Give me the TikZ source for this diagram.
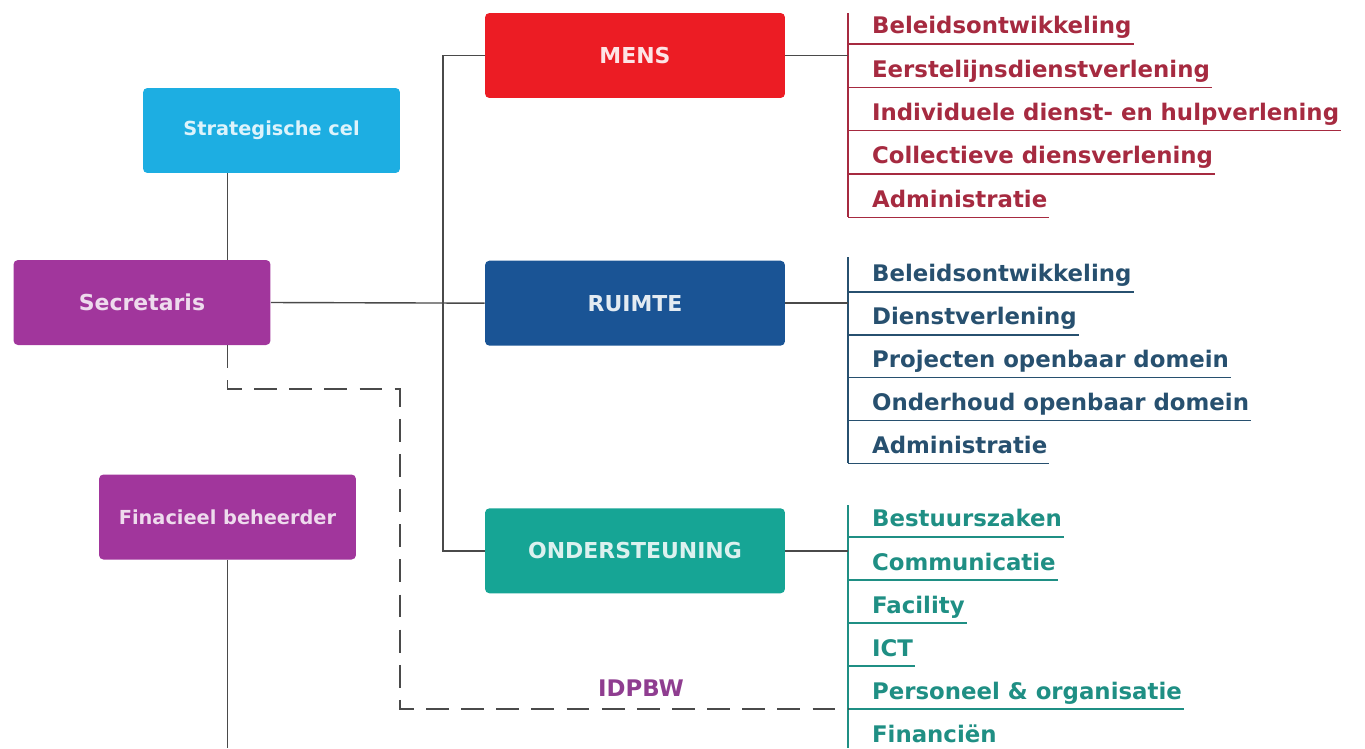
\documentclass[tikz,border=0pt]{standalone}
\usepackage{fontspec}
\setmainfont{DejaVu Sans}
\usepackage{tikz}
\usetikzlibrary{positioning}

\definecolor{stratcol}{HTML}{1DAEE2}
\definecolor{secrcol}{HTML}{A1369C}
\definecolor{menscol}{HTML}{EC1C24}
\definecolor{ruimtecol}{HTML}{1A5495}
\definecolor{ondercol}{HTML}{16A595}
\definecolor{menstext}{HTML}{A62A40}
\definecolor{ruimtetext}{HTML}{27506F}
\definecolor{ondertext}{HTML}{1F8F84}
\definecolor{linecol}{HTML}{4A4A4A}
\definecolor{idpbwcol}{HTML}{8F3D90}

\newcommand{\unitfont}{\fontsize{12.5}{15}\selectfont\bfseries}
\newcommand{\smallunitfont}{\fontsize{11}{13}\selectfont\bfseries}
\newcommand{\itemfont}{\fontsize{13}{15}\selectfont\bfseries}

\tikzset{
  unit/.style={rectangle, rounded corners=2.5pt, minimum width=5.14cm, minimum height=1.7cm, font=\unitfont},
  dept/.style={unit, minimum width=6cm},
  conn/.style={draw=linecol, line width=0.8pt},
  dashline/.style={draw=linecol, line width=0.8pt, dash pattern=on 13pt off 7pt},
  item/.style={anchor=south west, inner xsep=1pt, inner ysep=0pt, text depth=5.5pt, font=\itemfont},
  mensitem/.style={item, text=menstext},
  ruimteitem/.style={item, text=ruimtetext},
  onderitem/.style={item, text=ondertext},
}

\begin{document}
\begin{tikzpicture}[x=0.02cm, y=-0.02cm]
    \useasboundingbox (0, 0) rectangle (1365, 748);

    \node [unit, fill=stratcol, text=white!85!stratcol, font=\smallunitfont] (strat) at (271.5, 130.5) {Strategische cel};
    \node [unit, fill=secrcol, text=white!82!secrcol] (secr) at (142, 302.5) {Secretaris};
    \node [unit, fill=secrcol, text=white!82!secrcol, font=\smallunitfont] (fin) at (227.5, 517) {Finacieel beheerder};

    \node [dept, fill=menscol, text=white!88!menscol] (mens) at (635, 55.5) {MENS};
    \node [dept, fill=ruimtecol, text=white!88!ruimtecol, below=3.24cm of mens] (ruimte) {RUIMTE};
    \node [dept, fill=ondercol, text=white!85!ondercol, below=3.24cm of ruimte] (onder) {ONDERSTEUNING};

    \coordinate (trunk) at (443, 0);
    \coordinate (mbar) at (848, 13);
    \coordinate (rbar) at (848, 257);
    \coordinate (obar) at (848, 505);
    \coordinate (dcorner) at (400, 389);
    \coordinate (fbot) at (227.5, 748);

    \foreach \txt [count=\i] in {Beleidsontwikkeling, Eerstelijnsdienstverlening, Individuele dienst- en hulpverlening, Collectieve diensverlening, Administratie} {
      \node [mensitem] (m\i) at (870, {44 + 43.3*(\i - 1)}) {\txt};
      \draw [conn, draw=menstext] (mbar |- m\i.south) -- (m\i.south east);
    }
    \foreach \txt [count=\i] in {Beleidsontwikkeling, Dienstverlening, Projecten openbaar domein, Onderhoud openbaar domein, Administratie} {
      \node [ruimteitem] (r\i) at (870, {292 + 42.8*(\i - 1)}) {\txt};
      \draw [conn, draw=ruimtetext] (rbar |- r\i.south) -- (r\i.south east);
    }
    \foreach \txt [count=\i] in {Bestuurszaken, Communicatie, Facility, ICT, Personeel \& organisatie, Financiën} {
      \node [onderitem] (o\i) at (870, {537 + 43*(\i - 1)}) {\txt};
      \draw [conn, draw=ondertext] (obar |- o\i.south) -- (o\i.south east);
    }

    \draw [conn, draw=menstext] (mbar) -- (mbar |- m5.south);
    \draw [conn, draw=ruimtetext] (rbar) -- (rbar |- r5.south);
    \draw [conn, draw=ondertext] (obar) -- (obar |- fbot);

    \draw [conn] (mens.east) -- (mens.east -| mbar);
    \draw [conn] (ruimte.east) -- (ruimte.east -| rbar);
    \draw [conn] (onder.east) -- (onder.east -| obar);

    \draw [conn] (strat.south -| fin) -- (secr.north -| fin);
    \draw [conn] (secr.east) -- (ruimte.west);
    \draw [conn] (mens.west) -- (mens.west -| trunk) -- (onder.west -| trunk) -- (onder.west);
    \draw [conn] (fin.south) -- (fbot);

    \draw [dashline] (secr.south -| fin) |- (dcorner) |- (o5.south -| obar);

    \node [text=idpbwcol, font=\itemfont] (idpbw) at (641, 688) {IDPBW};
\end{tikzpicture}
\end{document}
